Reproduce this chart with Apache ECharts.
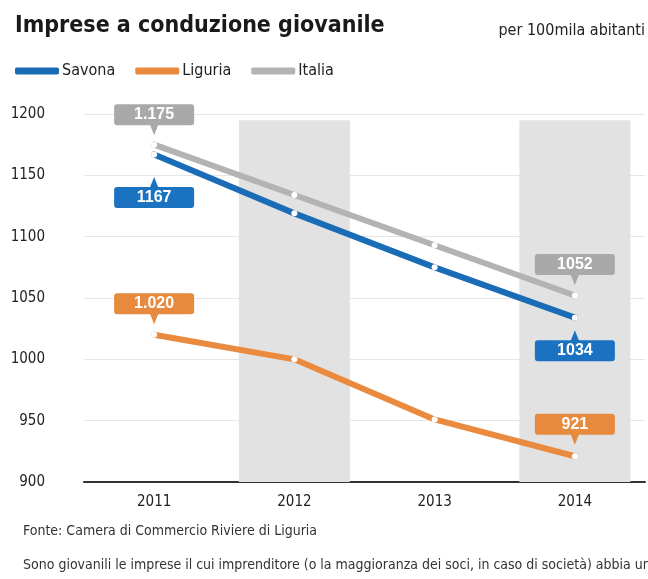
<!DOCTYPE html>
<html>
<head>
<meta charset="utf-8">
<script src="https://cdn.jsdelivr.net/npm/echarts@6/dist/echarts.min.js"></script>
<style>
  html, body { margin: 0; padding: 0; background: #fff; }
  #chart { width: 648px; height: 579px; }
</style>
</head>
<body>
<div id="chart"></div>
<script>
// dati
const years = ["2011", "2012", "2013", "2014"]
const savona = [1167, 1119, 1075, 1034]
const liguria = [1020, 1000, 951, 921]
const italia = [1175, 1134, 1093, 1052]
// etichette nei riquadri (solo primo e ultimo anno)
const savonaLabels = ["1167", "", "", "1034"]
const liguriaLabels = ["1.020", "", "", "921"]
const italiaLabels = ["1.175", "", "", "1052"]
// fasce grigie
const bandYears = ["2012", "2014"]
const bandTop = 1195
const yMin = 900
const yMax = 1200
const yStep = 50

const colors = { Savona: "#1a6cb6", Liguria: "#e98a3f", Italia: "#b3b3b3" }
const boxColors = { Savona: "#1a72c0", Liguria: "#e88a3e", Italia: "#a9a9a9" }
const font = "'DejaVu Sans Condensed', 'Liberation Sans', sans-serif"

// riquadro con angoli arrotondati e punta
const pathUp = "path://M3,0H77Q80,0 80,3V18Q80,21 77,21H44L40,31L36,21H3Q0,21 0,18V3Q0,0 3,0Z"
const pathDown = "path://M3,10H36L40,0L44,10H77Q80,10 80,13V28Q80,31 77,31H3Q0,31 0,28V13Q0,10 3,10Z"

function callouts(name, values, labels, below, offsets) {
  const data = []
  labels.forEach((t, i) => {
    if (!t) return
    data.push({
      name: t,
      coord: [years[i], values[i]],
      symbol: below ? pathDown : pathUp,
      symbolOffset: [0, offsets[i]],
      label: { offset: [0, below ? 5 : -5] },
    })
  })
  return {
    symbolSize: [80, 31],
    itemStyle: { color: boxColors[name] },
    label: {
      show: true,
      position: "inside",
      formatter: "{b}",
      color: "#fff",
      fontFamily: "'Liberation Sans', sans-serif",
      fontWeight: "bold",
      fontSize: 16,
    },
    data: data,
    silent: true,
    animation: false,
  }
}

function lineSeries(name, values, mp) {
  return {
    name: name,
    type: "line",
    data: values,
    color: colors[name],
    lineStyle: { width: 6, color: colors[name], cap: "round" },
    symbol: "circle",
    symbolSize: 6,
    itemStyle: { color: "#fff", borderWidth: 0 },
    z: 3,
    markPoint: mp,
  }
}

const chart = echarts.init(document.getElementById("chart"))
chart.setOption({
  animation: false,
  title: [
    {
      text: "Imprese a conduzione giovanile",
      left: 15,
      top: 15,
      padding: 0,
      textStyle: { fontFamily: font, fontWeight: "bold", fontSize: 23, color: "#1a1a1a" },
    },
    {
      text: "per 100mila abitanti",
      right: 3,
      top: 23,
      padding: 0,
      textStyle: { fontFamily: font, fontWeight: "normal", fontSize: 16, color: "#222" },
    },
    {
      text: "Fonte: Camera di Commercio Riviere di Liguria",
      left: 23,
      top: 524,
      padding: 0,
      textStyle: { fontFamily: font, fontWeight: "normal", fontSize: 14, color: "#333" },
    },
    {
      text: "Sono giovanili le imprese il cui imprenditore (o la maggioranza dei soci, in caso di società) abbia un’età inferiore ai 35 anni",
      left: 23,
      top: 558,
      padding: 0,
      textStyle: { fontFamily: font, fontWeight: "normal", fontSize: 14, color: "#333" },
    },
  ],
  legend: {
    left: 10,
    top: 58,
    icon: "roundRect",
    itemWidth: 44,
    itemHeight: 7,
    itemGap: 20,
    textStyle: { fontFamily: font, fontSize: 16, color: "#222", padding: [0, 0, 0, -2] },
    data: ["Savona", "Liguria", "Italia"].map((n) => ({ name: n, itemStyle: { color: colors[n] } })),
  },
  grid: { left: 84, right: 3, top: 114, bottom: 97 },
  xAxis: {
    type: "category",
    data: years,
    boundaryGap: true,
    axisLine: { show: true, lineStyle: { color: "#333", width: 2 } },
    axisTick: { show: false },
    axisLabel: { fontFamily: font, fontSize: 15, color: "#222", margin: 13 },
  },
  yAxis: {
    type: "value",
    min: yMin,
    max: yMax,
    interval: yStep,
    axisLine: { show: false },
    axisTick: { show: false },
    axisLabel: {
      fontFamily: font,
      fontSize: 15,
      color: "#222",
      margin: 39,
      formatter: (v) => String(v),
    },
    splitLine: { lineStyle: { color: "#e6e6e6", width: 1 } },
  },
  series: [
    {
      type: "bar",
      data: years.map((y) => (bandYears.includes(y) ? bandTop : null)),
      barWidth: 111,
      itemStyle: { color: "#e2e2e2" },
      silent: true,
      z: 1,
    },
    lineSeries("Liguria", liguria, callouts("Liguria", liguria, liguriaLabels, false, [-26, 0, 0, -27])),
    lineSeries("Italia", italia, callouts("Italia", italia, italiaLabels, false, [-25, 0, 0, -26])),
    lineSeries("Savona", savona, callouts("Savona", savona, savonaLabels, true, [38, 0, 0, 28])),
  ],
})
</script>
</body>
</html>
